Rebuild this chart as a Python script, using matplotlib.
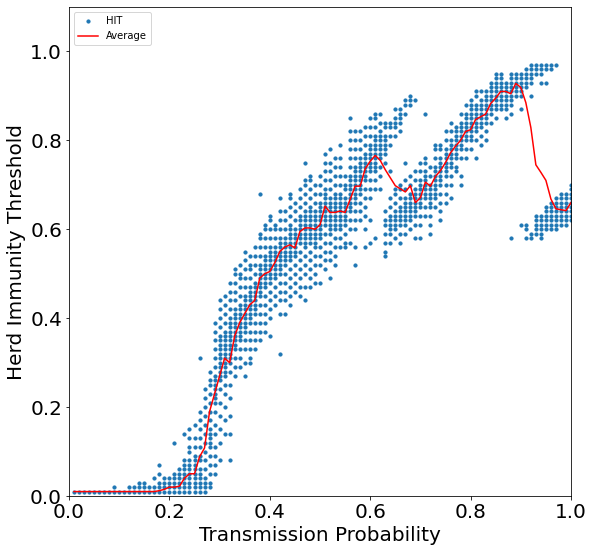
import numpy as np
import matplotlib
matplotlib.use("Agg")
import matplotlib.pyplot as plt

# transmission probabilities (x categories)
probs = [0.01, 0.02, 0.03, 0.04, 0.05, 0.06, 0.07, 0.08, 0.09, 0.10,
         0.11, 0.12, 0.13, 0.14, 0.15, 0.16, 0.17, 0.18, 0.19, 0.20,
         0.21, 0.22, 0.23, 0.24, 0.25, 0.26, 0.27, 0.28, 0.29, 0.30,
         0.31, 0.32, 0.33, 0.34, 0.35, 0.36, 0.37, 0.38, 0.39, 0.40,
         0.41, 0.42, 0.43, 0.44, 0.45, 0.46, 0.47, 0.48, 0.49, 0.50,
         0.51, 0.52, 0.53, 0.54, 0.55, 0.56, 0.57, 0.58, 0.59, 0.60,
         0.61, 0.62, 0.63, 0.64, 0.65, 0.66, 0.67, 0.68, 0.69, 0.70,
         0.71, 0.72, 0.73, 0.74, 0.75, 0.76, 0.77, 0.78, 0.79, 0.80,
         0.81, 0.82, 0.83, 0.84, 0.85, 0.86, 0.87, 0.88, 0.89, 0.90,
         0.91, 0.92, 0.93, 0.94, 0.95, 0.96, 0.97, 0.98, 0.99, 1.00]

# HIT values per probability, in percent
hit_low = [
    "1", "1", "1", "1", "1", "1", "1", "1", "1 2", "1",
    "1", "1 2", "1 2", "1 2 3", "1 2 3", "1 2", "1 2 4", "1 2 3 5 7", "1 2 3 4", "1 2 3 4",
    "1 2 3 4 5 12", "1 2 3 4 5 6", "1 2 3 4 5 6 7 8 14", "1 2 3 4 5 6 7 8 10 11 13 15",
    "1 2 3 4 5 6 7 8 9 11 13 16", "1 2 3 4 5 6 8 9 11 13 15 17 19 31",
    "1 2 3 4 6 8 10 12 14 16 18 20 22 24",
]
hit_rise = [
    "2 3 5 7 9 11 12 13 14 15 17 19 21 23 25 26 28",
    "5 7 9 11 14 16 19 21 22 23 24 25 26 27 29 31 33 35 37 39",
    "8 12 15 18 21 24 26 27 28 29 30 31 32 33 34 35 36 38 40 42 44",
    "14 17 20 23 25 27 28 29 30 31 32 33 34 35 36 37 39 41 43 45",
    "8 14 18 22 25 28 30 31 32 33 34 35 36 37 38 39 40 42 44 46 48",
    "27 29 31 33 34 35 36 37 38 39 40 41 42 44 46 48 50 51",
    "29 31 33 35 36 37 38 39 40 41 42 43 45 47 49 50 52",
    "27 30 33 35 37 38 39 40 41 42 43 44 45 47 49 51 53 55",
    "30 31 33 35 37 39 40 41 42 43 44 45 46 47 49 51 52 54",
    "33 35 37 39 41 42 43 44 45 46 47 48 50 52 54 56",
    "35 37 39 41 43 45 46 47 48 49 50 51 52 54 56 58 59 68",
    "37 39 41 43 45 47 48 49 50 51 52 53 54 56 58 60 61",
    "36 40 42 44 46 48 49 50 51 52 53 54 55 56 58 60 62 63",
    "43 45 47 49 50 51 52 53 54 55 56 58 60 61",
    "32 41 44 46 48 50 51 52 53 54 55 56 57 58 60 62 64 67",
    "41 44 46 48 50 52 53 54 55 56 57 58 60 62 64",
    "43 45 47 49 51 53 54 55 56 57 58 59 60 61 63 65 67 68",
    "46 48 50 52 54 55 56 57 58 59 60 62 64 66",
    "45 47 49 51 53 55 57 58 59 60 61 62 63 65 67 69",
    "44 47 50 52 54 56 57 58 59 60 61 62 63 64 66 68 70 71 75",
    "47 49 51 53 55 57 58 59 60 61 62 63 64 65 67 69 71 72",
    "48 50 52 54 56 57 58 59 60 61 62 63 64 66 68 70",
    "48 52 54 56 58 59 60 61 62 63 64 65 66 68 70 72",
    "51 53 55 57 59 61 62 63 64 65 66 67 68 69 71 73 75 77",
    "49 53 55 57 59 60 61 62 63 64 65 66 67 69 71 73 75 78",
    "52 54 56 58 60 61 62 63 64 65 66 67 68 70 72 74 76",
    "56 58 60 61 62 63 64 65 66 67 68 70 72 74 76 79",
    "56 57 59 61 62 63 64 65 66 67 69 70 72",
]
hit_split = [
    "57 60 62 64 65 66 67 68 69 70 71 72 74 76 78 80 82 85",
    "52 56 60 62 64 66 67 68 69 70 71 72 73 74 76 78 80 82",
    "62 64 66 68 69 70 71 72 73 74 75 76 78 80 82",
    "56 60 63 65 67 69 71 72 73 74 75 76 77 79 81 83",
    "57 62 67 69 71 73 74 75 76 77 78 79 81 83 85",
    "58 69 71 73 74 75 76 77 78 79 80 81 83 85 86",
    "69 72 74 76 77 78 79 80 81 82 84 86",
    "54 55 57 59 61 62 64 75 77 78 79 80 81 83 84",
    "57 59 60 61 62 63 65 67 73 79 81 83 84",
    "58 60 61 62 63 64 66 68 69 81 83 84 85 87",
    "57 59 61 62 63 64 65 67 69 70 82 84 85 86 87",
    "59 61 62 63 64 65 66 67 69 71 75 86 88 89",
    "60 62 63 64 65 66 67 68 70 72 88 89 90",
    "58 61 63 64 65 66 67 68 69 71 73 89",
    "58 61 63 65 66 67 68 69 70 71 73 75",
    "63 65 67 68 69 70 71 72 73 75 76 86",
    "59 61 63 65 66 67 68 69 70 72 74",
    "65 67 68 69 70 71 72 73 74 76 78 79",
    "62 64 66 68 70 71 72 73 74 75 76 78 79",
    "66 68 70 72 73 74 75 76 77 78 80 82",
    "67 70 72 74 75 76 77 78 79 80 82 84",
    "73 74 76 77 78 79 80 81 82 83",
    "70 72 76 78 79 80 81 82 83 84 86",
    "76 78 80 81 82 83 84 85 86 88",
    "78 80 81 82 83 84 85 86 87 88 89",
    "76 80 82 83 84 85 86 87 88 90 91",
    "79 81 83 84 85 86 87 88 89 91",
    "80 82 84 85 86 87 88 89 90 91",
]
hit_high = [
    "84 86 87 88 89 90 91 92 93",
    "85 87 88 89 90 91 92 93 94 95",
    "87 88 89 90 91 92 93 94 95",
    "85 87 88 89 90 91 92 93",
    "58 86 88 89 90 91 92 93 94 95",
    "90 91 92 93 94 95",
    "61 87 90 91 92 93 94 95",
    "58 60 61 92 93 94 95 96",
    "58 59 90 93 94 95 96 97",
    "59 60 61 62 63 95 96 97",
    "58 59 60 61 62 63 93 95 96 97",
    "60 61 62 63 64 65 93 96 97",
    "60 61 62 63 64 65 66 96 97",
    "60 61 62 63 64 65 66 67 97",
    "61 62 63 64 65 66 67 68",
    "61 62 63 64 65 66 67 68",
    "62 63 64 65 66 67 68 69 70",
]

# average HIT per probability
avg_hit = [0.01] * 17 + [
    0.012, 0.015, 0.02, 0.02, 0.022, 0.04, 0.05, 0.05, 0.088, 0.108,
    0.19, 0.23, 0.27, 0.31, 0.30, 0.36, 0.39, 0.41, 0.43, 0.44,
    0.49, 0.50, 0.505, 0.525, 0.55, 0.56, 0.565, 0.558, 0.595, 0.603,
    0.603, 0.60, 0.61, 0.652, 0.638, 0.638, 0.641, 0.638, 0.667, 0.697,
    0.697, 0.736, 0.753, 0.766, 0.755, 0.734, 0.716, 0.698, 0.691, 0.684,
    0.698, 0.66, 0.671, 0.706, 0.697, 0.719, 0.732, 0.75, 0.772, 0.787,
    0.80, 0.82, 0.824, 0.847, 0.853, 0.859, 0.883, 0.895, 0.91, 0.91,
    0.905, 0.928, 0.919, 0.885, 0.829, 0.745, 0.728, 0.71, 0.668, 0.646,
    0.644, 0.642, 0.66]

hit_cols = hit_low + hit_rise + hit_split + hit_high
xs, ys = [], []
for p, col in zip(probs, hit_cols):
    for v in col.split():
        xs.append(p)
        ys.append(float(v) / 100)

fig = plt.figure(figsize=(594 / 72, 552 / 72), dpi=72)
ax = fig.add_axes([69 / 594, 56 / 552, 502 / 594, 489 / 552])
ax.scatter(xs, ys, s=10, label='HIT')
ax.plot(probs, avg_hit, color='red', label='Average')
ax.set_xlim(0, 1)
ax.set_ylim(0, 1.1)
ax.set_xlabel('Transmission Probability', fontsize=20)
ax.set_ylabel('Herd Immunity Threshold', fontsize=20)
ax.tick_params(labelsize=20)
ax.legend(loc='upper left')
fig.savefig('out.png', dpi=72)
